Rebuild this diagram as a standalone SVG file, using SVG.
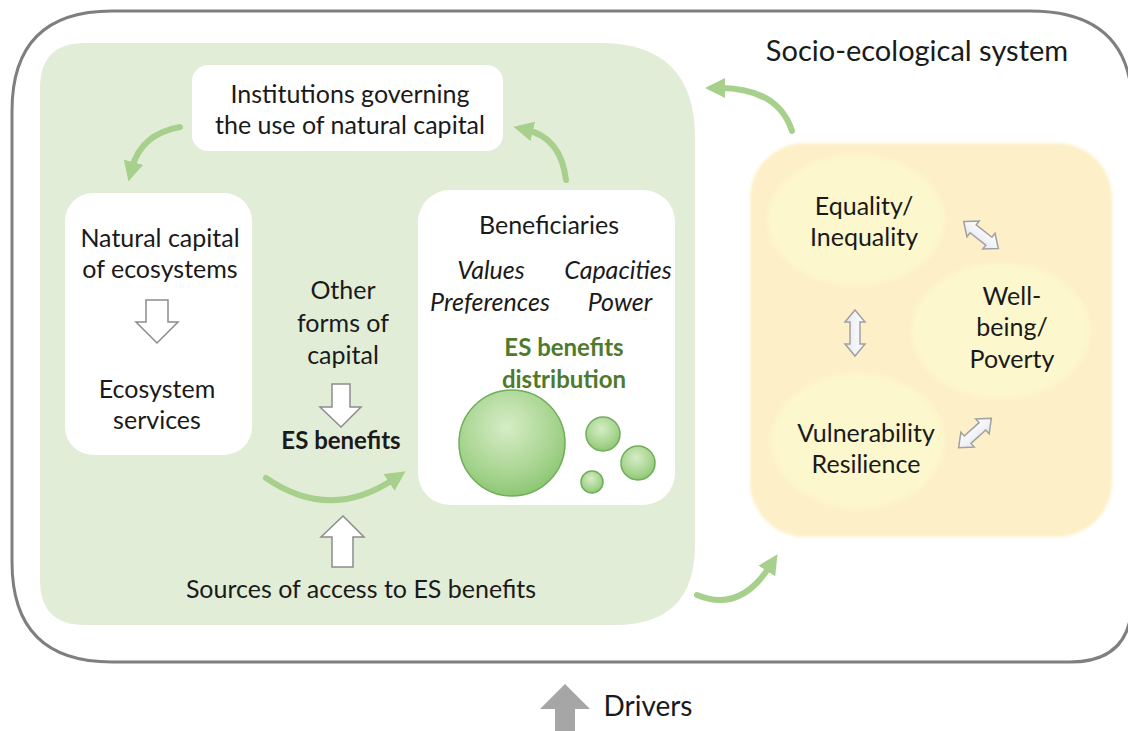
<svg xmlns="http://www.w3.org/2000/svg" width="1128" height="731" viewBox="0 0 1128 731">
<style>
.t{font-family:Lato,"Open Sans","Liberation Sans",sans-serif;font-size:25px;fill:#1a1a1a;text-anchor:middle}
.b{font-weight:bold}
.i{font-style:italic}
.dg{fill:#4f7a2e}
.box{fill:#ffffff}
.cv{fill:none;stroke:#a8d08d;stroke-width:6;stroke-linecap:round;marker-end:url(#ah)}
.hol{fill:#ffffff;stroke:#8c8c8c;stroke-width:1.5}
.dbl{fill:url(#dblg);stroke:#a0a0a0;stroke-width:1.5}
.ell{fill:#fdf7cd;filter:url(#soft)}
.bub{fill:url(#bubg);stroke:#6fae58;stroke-width:1.5}
</style>
<defs>
<marker id="ah" viewBox="0 0 10 10" refX="3" refY="5" markerWidth="20" markerHeight="20" markerUnits="userSpaceOnUse" orient="auto">
<path d="M0,0 L10,5 L0,10 z" fill="#a8d08d"/>
</marker>
<radialGradient id="bubg" cx="0.45" cy="0.35" r="0.7">
<stop offset="0" stop-color="#d6edc6"/>
<stop offset="0.7" stop-color="#a3d28b"/>
<stop offset="1" stop-color="#86c36c"/>
</radialGradient>
<linearGradient id="dblg" x1="0" y1="0" x2="0" y2="1">
<stop offset="0" stop-color="#ffffff"/>
<stop offset="1" stop-color="#e4e8f0"/>
</linearGradient>
<filter id="soft" x="-10%" y="-10%" width="120%" height="120%">
<feGaussianBlur stdDeviation="2"/>
</filter>
<filter id="softp" x="-5%" y="-5%" width="110%" height="110%">
<feGaussianBlur stdDeviation="1.5"/>
</filter>
</defs>

<g id="system">
<path d="M112,11 L1030,11 Q1128,11 1132,100 L1132,600 Q1132,662 1070,662 L112,662 Q12,662 12,562 L12,111 Q12,11 112,11 Z" fill="#ffffff" stroke="#7f7f7f" stroke-width="3"/>
<text class="t" x="917" y="61" style="font-size:29px">Socio-ecological system</text>
</g>

<g id="green-panel">
<path d="M85,43 L600,43 Q695,43 695,138 L695,545 Q695,625 615,625 L85,625 Q40,625 40,580 L40,88 Q40,43 85,43 Z" fill="#e2edd8"/>
</g>

<g id="yellow-panel">
<rect x="750" y="143" width="362" height="394" rx="55" fill="#fdf0c8" filter="url(#softp)"/>
</g>

<g id="institutions">
<rect class="box" x="192" y="65" width="311" height="86" rx="16"/>
<text class="t" x="350" y="103">Institutions governing</text>
<text class="t" x="350" y="134">the use of natural capital</text>
</g>

<g id="natural-capital">
<rect class="box" x="65" y="193" width="187" height="262" rx="28"/>
<text class="t" x="160" y="247">Natural capital</text>
<text class="t" x="160" y="278">of ecosystems</text>
<polygon class="hol" points="146,300 168,300 168,322 178,322 157,343 136,322 146,322"/>
<text class="t" x="157" y="398">Ecosystem</text>
<text class="t" x="157" y="429">services</text>
</g>

<g id="other-capital">
<text class="t" x="343" y="299">Other</text>
<text class="t" x="343" y="332">forms of</text>
<text class="t" x="343" y="364">capital</text>
<polygon class="hol" points="332,384 350,384 350,407 361,407 341,427 320,407 332,407"/>
<text class="t b" x="341" y="449" style="font-size:24px">ES benefits</text>
</g>

<g id="beneficiaries">
<rect class="box" x="418" y="190" width="257" height="315" rx="32"/>
<text class="t" x="549" y="234">Beneficiaries</text>
<text class="t i" x="491" y="279">Values</text>
<text class="t i" x="618" y="279">Capacities</text>
<text class="t i" x="490" y="311">Preferences</text>
<text class="t i" x="620" y="311">Power</text>
<text class="t b dg" x="564" y="356" style="font-size:24px">ES benefits</text>
<text class="t b dg" x="564" y="388" style="font-size:24px">distribution</text>
<circle class="bub" cx="512" cy="443" r="53"/>
<circle class="bub" cx="603" cy="434" r="17"/>
<circle class="bub" cx="638" cy="463" r="17"/>
<circle class="bub" cx="592" cy="482" r="11"/>
</g>

<g id="sources">
<polygon class="hol" points="332,567 353,567 353,537 364,537 343,516 321,537 332,537"/>
<text class="t" x="361" y="598">Sources of access to ES benefits</text>
</g>

<g id="equality">
<ellipse class="ell" cx="856" cy="220" rx="88" ry="65"/>
<text class="t" x="864" y="215">Equality/</text>
<text class="t" x="864" y="246">Inequality</text>
</g>

<g id="wellbeing">
<ellipse class="ell" cx="1001" cy="331" rx="89" ry="67"/>
<text class="t" x="1012" y="305">Well-</text>
<text class="t" x="1012" y="336">being/</text>
<text class="t" x="1012" y="368">Poverty</text>
</g>

<g id="vulnerability">
<ellipse class="ell" cx="858" cy="441" rx="86" ry="67"/>
<text class="t" x="866" y="442">Vulnerability</text>
<text class="t" x="866" y="473">Resilience</text>
</g>

<g id="drivers">
<polygon points="555,731 575,731 575,709 590,709 565,684 540,709 555,709" fill="#a6a6a6"/>
<text class="t" x="648" y="716" style="font-size:28px">Drivers</text>
</g>

<g id="connectors">
<path class="cv" d="M180,127 Q141,134 132,168"/>
<path class="cv" d="M566,180 Q561,138 527,130"/>
<path class="cv" d="M792,131 Q778,88 719,88"/>
<path class="cv" d="M697,595 Q740,613 770,566"/>
<path class="cv" d="M266,478 Q330,522 394,479"/>
<polygon class="dbl" points="-22,0 -10,-10 -10,-5 10,-5 10,-10 22,0 10,10 10,5 -10,5 -10,10" transform="translate(981,235) rotate(38)"/>
<polygon class="dbl" points="-23,0 -11,-10 -11,-5 11,-5 11,-10 23,0 11,10 11,5 -11,5 -11,10" transform="translate(855,333) rotate(90)"/>
<polygon class="dbl" points="-22,0 -10,-10 -10,-5 10,-5 10,-10 22,0 10,10 10,5 -10,5 -10,10" transform="translate(975,433) rotate(-42)"/>
</g>
</svg>
